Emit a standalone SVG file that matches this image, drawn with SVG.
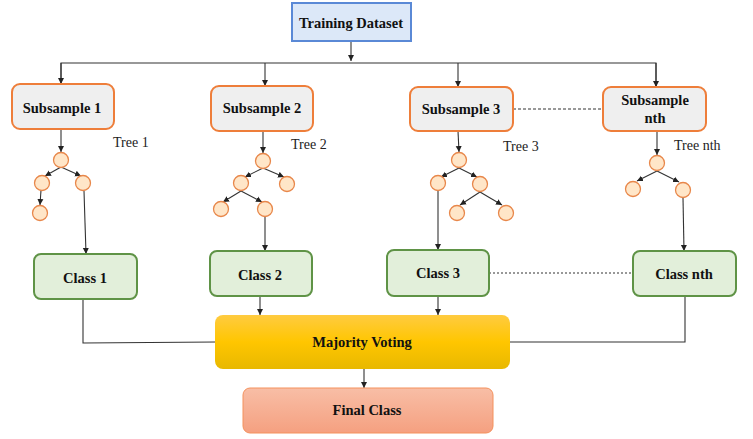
<svg xmlns="http://www.w3.org/2000/svg" width="753" height="439" viewBox="0 0 753 439">
<style>
.t{font-family:"Liberation Serif","Times New Roman",serif;font-weight:bold;font-size:14.5px;fill:#111;text-anchor:middle}
.lbl{font-family:"Liberation Serif","Times New Roman",serif;font-size:14px;fill:#222}
.sub{fill:#EFEFEF;stroke:#EE7E3A;stroke-width:2}
.cls{fill:#E2EFDA;stroke:#5F9346;stroke-width:2}
.nd{fill:#FFE6C8;stroke:#E8874A;stroke-width:1.3}
.c{fill:none;stroke:#333;stroke-width:1.1}
</style>
<defs>
<marker id="ah" markerUnits="userSpaceOnUse" markerWidth="7" markerHeight="7" refX="6" refY="3.5" orient="auto">
<path d="M0,0.5 L6,3.5 L0,6.5 z" fill="#222"/>
</marker>
<linearGradient id="gMaj" x1="0" y1="0" x2="0" y2="1">
<stop offset="0" stop-color="#FFCB40"/>
<stop offset="0.5" stop-color="#FFC600"/>
<stop offset="1" stop-color="#E8B800"/>
</linearGradient>
<linearGradient id="gFin" x1="0" y1="0" x2="0" y2="1">
<stop offset="0" stop-color="#F8BEA6"/>
<stop offset="1" stop-color="#F5A080"/>
</linearGradient>
</defs>

<g id="connectors">
<line class="c" x1="351" y1="41" x2="351" y2="61" marker-end="url(#ah)"/>
<polyline class="c" points="61,84 61,63 656,63 656,86"/>
<line class="c" x1="61" y1="63" x2="61" y2="84" marker-end="url(#ah)"/>
<line class="c" x1="265" y1="63" x2="265" y2="86" marker-end="url(#ah)"/>
<line class="c" x1="458" y1="63" x2="458" y2="87" marker-end="url(#ah)"/>
<line class="c" x1="656" y1="63" x2="656" y2="87" marker-end="url(#ah)"/>
<line x1="513" y1="109" x2="603" y2="109" stroke="#333" stroke-width="1" stroke-dasharray="3,2"/>
<line x1="489" y1="273" x2="633" y2="273" stroke="#777" stroke-width="1.5" stroke-dasharray="2,2"/>
<!-- tree 1 -->
<line class="c" x1="61" y1="129" x2="61" y2="152" marker-end="url(#ah)"/>
<line class="c" x1="61" y1="167" x2="45" y2="176" marker-end="url(#ah)"/>
<line class="c" x1="61" y1="167" x2="81" y2="176" marker-end="url(#ah)"/>
<line class="c" x1="41" y1="190" x2="40" y2="205" marker-end="url(#ah)"/>
<line class="c" x1="84" y1="191" x2="86" y2="254" marker-end="url(#ah)"/>
<!-- tree 2 -->
<line class="c" x1="263" y1="131" x2="263" y2="153" marker-end="url(#ah)"/>
<line class="c" x1="263" y1="168" x2="245" y2="177" marker-end="url(#ah)"/>
<line class="c" x1="263" y1="168" x2="284" y2="177" marker-end="url(#ah)"/>
<line class="c" x1="241" y1="191" x2="223" y2="202" marker-end="url(#ah)"/>
<line class="c" x1="241" y1="191" x2="262" y2="202" marker-end="url(#ah)"/>
<line class="c" x1="265" y1="217" x2="265" y2="251" marker-end="url(#ah)"/>
<!-- tree 3 -->
<line class="c" x1="458" y1="131" x2="459" y2="152" marker-end="url(#ah)"/>
<line class="c" x1="459" y1="168" x2="441" y2="177" marker-end="url(#ah)"/>
<line class="c" x1="459" y1="168" x2="477" y2="177" marker-end="url(#ah)"/>
<line class="c" x1="480" y1="192" x2="460" y2="205" marker-end="url(#ah)"/>
<line class="c" x1="480" y1="192" x2="502" y2="205" marker-end="url(#ah)"/>
<line class="c" x1="438" y1="191" x2="438" y2="250" marker-end="url(#ah)"/>
<!-- tree nth -->
<line class="c" x1="657" y1="131" x2="657" y2="155" marker-end="url(#ah)"/>
<line class="c" x1="657" y1="171" x2="637" y2="181" marker-end="url(#ah)"/>
<line class="c" x1="657" y1="171" x2="679" y2="182" marker-end="url(#ah)"/>
<line class="c" x1="683" y1="198" x2="684" y2="251" marker-end="url(#ah)"/>
<!-- classes to voting -->
<polyline class="c" points="83,299 83,343 216,342"/>
<line class="c" x1="260" y1="296" x2="260" y2="315" marker-end="url(#ah)"/>
<line class="c" x1="438" y1="296" x2="438" y2="315" marker-end="url(#ah)"/>
<polyline class="c" points="685,296 685,342 509,342"/>
<line class="c" x1="364" y1="369" x2="364" y2="388" marker-end="url(#ah)"/>
</g>

<g id="training-dataset">
<rect x="292" y="3" width="119" height="38" fill="#DCE8F8" stroke="#5A89D6" stroke-width="2"/>
<text class="t" x="351" y="28">Training Dataset</text>
</g>

<g id="subsample-1">
<rect class="sub" x="12" y="84" width="102" height="45" rx="8"/>
<text class="t" x="62" y="113">Subsample 1</text>
</g>
<g id="subsample-2">
<rect class="sub" x="211" y="86" width="102" height="45" rx="8"/>
<text class="t" x="262" y="113">Subsample 2</text>
</g>
<g id="subsample-3">
<rect class="sub" x="410" y="87" width="103" height="44" rx="8"/>
<text class="t" x="461" y="114">Subsample 3</text>
</g>
<g id="subsample-nth">
<rect class="sub" x="603" y="87" width="103" height="44" rx="8"/>
<text class="t" x="655" y="105">Subsample</text>
<text class="t" x="655" y="123">nth</text>
</g>

<g id="tree-1">
<text class="lbl" x="113" y="147">Tree 1</text>
<circle class="nd" cx="61" cy="160" r="7.5"/>
<circle class="nd" cx="42" cy="183" r="7.5"/>
<circle class="nd" cx="83" cy="183" r="7.5"/>
<circle class="nd" cx="40" cy="213" r="7.5"/>
</g>
<g id="tree-2">
<text class="lbl" x="291" y="149">Tree 2</text>
<circle class="nd" cx="263" cy="161" r="7.5"/>
<circle class="nd" cx="241" cy="183" r="7.5"/>
<circle class="nd" cx="287" cy="184" r="7.5"/>
<circle class="nd" cx="221" cy="209" r="7.5"/>
<circle class="nd" cx="265" cy="209" r="7.5"/>
</g>
<g id="tree-3">
<text class="lbl" x="503" y="151">Tree 3</text>
<circle class="nd" cx="459" cy="160" r="7.5"/>
<circle class="nd" cx="438" cy="183" r="7.5"/>
<circle class="nd" cx="480" cy="184" r="7.5"/>
<circle class="nd" cx="457" cy="213" r="7.5"/>
<circle class="nd" cx="506" cy="213" r="7.5"/>
</g>
<g id="tree-nth">
<text class="lbl" x="674" y="150">Tree nth</text>
<circle class="nd" cx="657" cy="163" r="7.5"/>
<circle class="nd" cx="633" cy="189" r="7.5"/>
<circle class="nd" cx="683" cy="190" r="7.5"/>
</g>

<g id="class-1">
<rect class="cls" x="34" y="254" width="103" height="45" rx="7"/>
<text class="t" x="85" y="283">Class 1</text>
</g>
<g id="class-2">
<rect class="cls" x="210" y="251" width="102" height="45" rx="7"/>
<text class="t" x="260" y="280">Class 2</text>
</g>
<g id="class-3">
<rect class="cls" x="387" y="250" width="102" height="46" rx="7"/>
<text class="t" x="438" y="278">Class 3</text>
</g>
<g id="class-nth">
<rect class="cls" x="633" y="251" width="103" height="45" rx="7"/>
<text class="t" x="684" y="279">Class nth</text>
</g>

<g id="majority-voting">
<rect x="215" y="315" width="295" height="54" rx="8" fill="url(#gMaj)"/>
<text class="t" x="362" y="347">Majority Voting</text>
</g>

<g id="final-class">
<rect x="243" y="388" width="250" height="45" rx="7" fill="url(#gFin)" stroke="#F4915C" stroke-width="1"/>
<text class="t" x="367" y="415">Final Class</text>
</g>
</svg>
